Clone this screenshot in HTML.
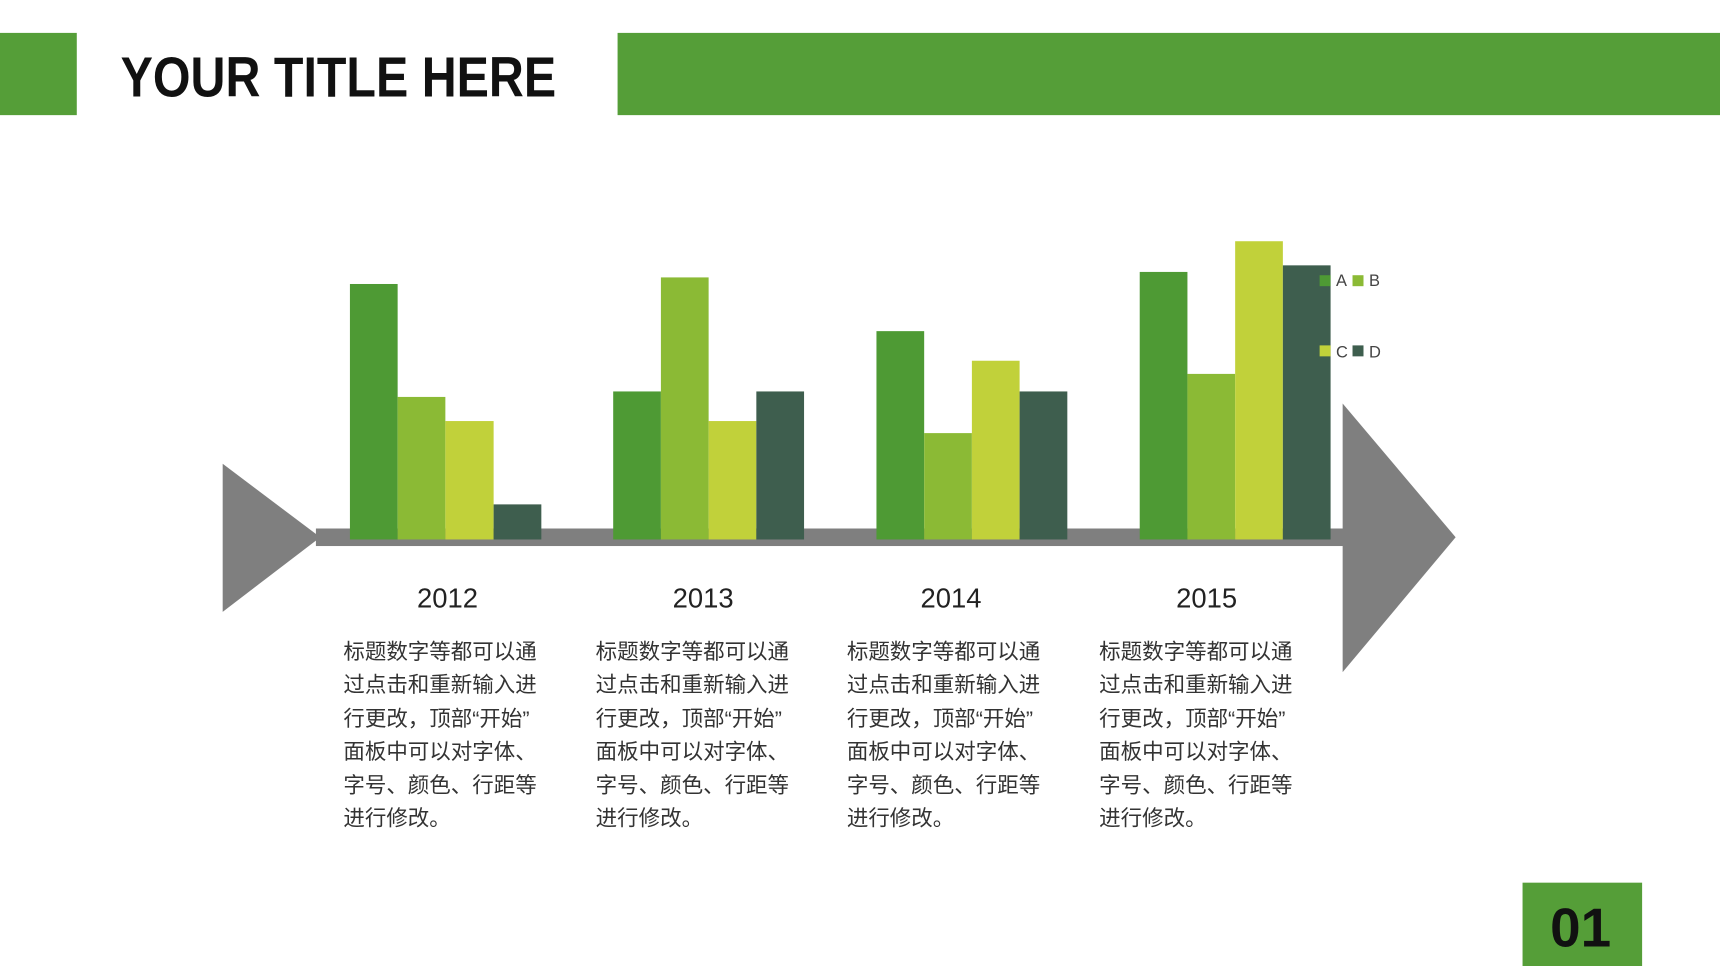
<!DOCTYPE html>
<html><head><meta charset="utf-8"><style>
html,body{margin:0;padding:0;background:#fff;}
svg{display:block;}
</style></head><body>
<svg width="1720" height="966" viewBox="0 0 1568 881" preserveAspectRatio="none" xmlns="http://www.w3.org/2000/svg">
<rect x="0" y="0" width="1568" height="881" fill="#fff"/>
<rect x="0" y="30" width="70" height="75" fill="#559E38"/>
<rect x="563" y="30" width="1005" height="75" fill="#559E38"/>
<text x="110" y="88" font-family="Liberation Sans, sans-serif" font-weight="bold" font-size="52" fill="#111" textLength="397" lengthAdjust="spacingAndGlyphs">YOUR TITLE HERE</text>
<!-- arrow -->
<polygon points="203,423 292,490 203,558" fill="#7f7f7f"/>
<rect x="288" y="482" width="942" height="16" fill="#7f7f7f"/>
<polygon points="1224,368 1327,490 1224,613" fill="#7f7f7f"/>
<!-- bars -->
<g>
<rect x="319" y="259" width="43.5" height="233" fill="#4E9A34"/>
<rect x="362.5" y="362" width="43.5" height="130" fill="#8BBA35"/>
<rect x="406" y="384" width="44" height="108" fill="#C1D13A"/>
<rect x="450" y="460" width="43.5" height="32" fill="#3E5E4E"/>
<rect x="559" y="357" width="43.5" height="135" fill="#4E9A34"/>
<rect x="602.5" y="253" width="43.5" height="239" fill="#8BBA35"/>
<rect x="646" y="384" width="43.5" height="108" fill="#C1D13A"/>
<rect x="689.5" y="357" width="43.5" height="135" fill="#3E5E4E"/>
<rect x="799" y="302" width="43.5" height="190" fill="#4E9A34"/>
<rect x="842.5" y="395" width="43.5" height="97" fill="#8BBA35"/>
<rect x="886" y="329" width="43.5" height="163" fill="#C1D13A"/>
<rect x="929.5" y="357" width="43.5" height="135" fill="#3E5E4E"/>
<rect x="1039" y="248" width="43.5" height="244" fill="#4E9A34"/>
<rect x="1082.5" y="341" width="43.5" height="151" fill="#8BBA35"/>
<rect x="1126" y="220" width="43.5" height="272" fill="#C1D13A"/>
<rect x="1169.5" y="242" width="43.5" height="250" fill="#3E5E4E"/>
</g>
<!-- legend -->
<g font-family="Liberation Sans, sans-serif" font-size="15" fill="#444">
<rect x="1203" y="251" width="10" height="10" fill="#4E9A34"/><text x="1218" y="261">A</text>
<rect x="1233" y="251" width="10" height="10" fill="#8BBA35"/><text x="1248" y="261">B</text>
<rect x="1203" y="315" width="10" height="10" fill="#C1D13A"/><text x="1218" y="326">C</text>
<rect x="1233" y="315" width="10" height="10" fill="#3E5E4E"/><text x="1248" y="326">D</text>
</g>
<!-- years -->
<g font-family="Liberation Sans, sans-serif" font-size="25" fill="#222" text-anchor="middle">
<text x="408" y="554">2012</text>
<text x="641" y="554">2013</text>
<text x="867" y="554">2014</text>
<text x="1100" y="554">2015</text>
</g>
<!-- paragraphs -->
<g font-family="Liberation Sans, 'Noto Sans CJK SC', sans-serif" font-size="19.6" fill="#333">
<g>
<text x="313" y="601">标题数字等都可以通</text>
<text x="313" y="631">过点击和重新输入进</text>
<text x="313" y="662">行更改，顶部“开始”</text>
<text x="313" y="692">面板中可以对字体、</text>
<text x="313" y="723">字号、颜色、行距等</text>
<text x="313" y="753">进行修改。</text>
</g>
<g transform="translate(230,0)">
<text x="313" y="601">标题数字等都可以通</text>
<text x="313" y="631">过点击和重新输入进</text>
<text x="313" y="662">行更改，顶部“开始”</text>
<text x="313" y="692">面板中可以对字体、</text>
<text x="313" y="723">字号、颜色、行距等</text>
<text x="313" y="753">进行修改。</text>
</g>
<g transform="translate(459,0)">
<text x="313" y="601">标题数字等都可以通</text>
<text x="313" y="631">过点击和重新输入进</text>
<text x="313" y="662">行更改，顶部“开始”</text>
<text x="313" y="692">面板中可以对字体、</text>
<text x="313" y="723">字号、颜色、行距等</text>
<text x="313" y="753">进行修改。</text>
</g>
<g transform="translate(689,0)">
<text x="313" y="601">标题数字等都可以通</text>
<text x="313" y="631">过点击和重新输入进</text>
<text x="313" y="662">行更改，顶部“开始”</text>
<text x="313" y="692">面板中可以对字体、</text>
<text x="313" y="723">字号、颜色、行距等</text>
<text x="313" y="753">进行修改。</text>
</g>
</g>
<rect x="1388" y="805" width="109" height="76" fill="#559E38"/>
<text x="1441" y="863" text-anchor="middle" font-family="Liberation Sans, sans-serif" font-weight="bold" font-size="50" fill="#111">01</text>
</svg>
</body></html>
